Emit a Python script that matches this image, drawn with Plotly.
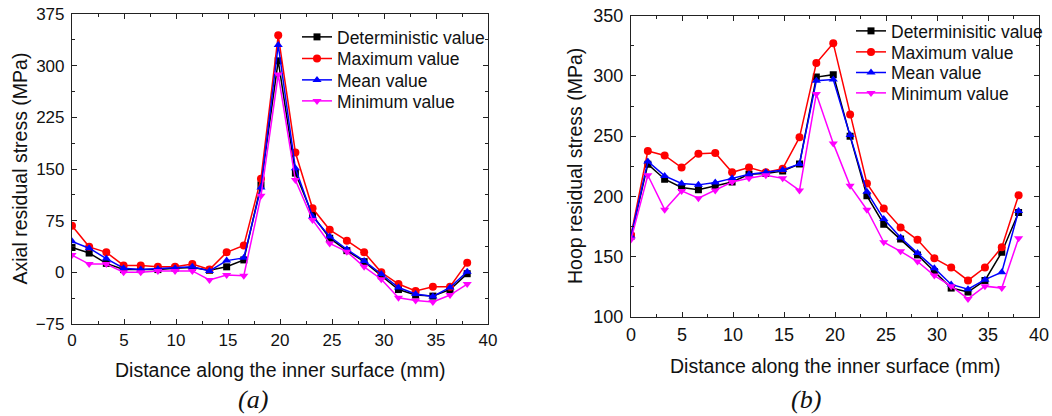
import plotly.graph_objects as go

W, H = 1052, 416

# x positions (mm)
x = [0, 1.65, 3.3, 4.96, 6.61, 8.26, 9.91, 11.57, 13.22, 14.87, 16.52, 18.17,
     19.83, 21.48, 23.13, 24.78, 26.43, 28.09, 29.74, 31.39, 33.04, 34.7, 36.35, 38]

# (a) Axial residual stress (MPa)
axial_det = [36, 28, 13, 4, 4, 4, 6, 7, 3, 8, 18, 127, 307, 144, 83, 49.5, 31.5, 15.5, -5, -25, -33, -34.5, -25, -2]
axial_max = [67.5, 37, 29, 10, 10, 8, 8, 12, 4, 29, 39, 136, 344, 174, 93, 61.7, 46, 29, 0, -17, -27, -21, -21, 14]
axial_mean = [45, 35, 20, 6, 4, 5, 6, 8, 2, 17, 21, 123, 330, 151, 81, 52, 33.5, 16.5, -2.4, -22, -31.5, -35, -22, 1]
axial_min = [25, 12, 12, 0, 0, 2, 2, 2, -11, -4, -5, 111, 287, 134, 76, 42, 30, 8, -10, -37, -41, -43, -33, -17]

# (b) Hoop residual stress (MPa)
hoop_det = [167, 226.7, 214.3, 207.4, 205.5, 208.8, 212, 218.4, 219, 221, 227, 299, 301, 250, 200.5, 177, 164.7, 151.5, 137.7, 124, 120.7, 130.3, 153.7, 186.7]
hoop_max = [168, 237.7, 234, 224, 235.5, 236, 220, 224, 220, 223, 249, 310.6, 327, 268, 210.7, 190, 174.3, 164, 148.7, 141, 130.3, 141, 157.8, 201]
hoop_mean = [167, 229, 217, 210.7, 209.6, 211.5, 215, 218.4, 220, 222, 227, 296, 297, 251, 203.8, 181.2, 166, 153, 140.5, 127, 123, 131, 137.2, 188]
hoop_min = [164.2, 217.6, 189, 204.6, 198.6, 205, 212, 215, 217.6, 215, 205, 285, 244, 208.8, 189, 162, 154.5, 146, 134.4, 125.6, 115, 125.6, 124, 165.3]

names_a = ["Deterministic value", "Maximum value", "Mean value", "Minimum value"]
names_b = ["Determinisitic value", "Maximum value", "Mean value", "Minimum value"]
colors = ["#000000", "#ff0000", "#0000ff", "#ff00ff"]
symbols = ["square", "circle", "triangle-up", "triangle-down"]
msizes = [7, 8, 8, 8]

SANS = "Liberation Sans, Arial, sans-serif"
SERIF = "Liberation Serif, Times New Roman, serif"
INK = "#111111"


def px2x(p):
    return p / W


def px2y(p):
    return 1 - p / H


# legend row positions (pixels): text left edge, row centres
leg_a_x, leg_a_rows = 338, [37, 58.5, 80, 101]
leg_b_x, leg_b_rows = 892, [31, 52, 72.5, 93]
LEG_TEXT_OFFSET = 41  # px from legend box left to text start

fig = go.Figure()
layout_legends = {}
k = 1
for names, series, lx, rows, xa, ya in [
        (names_a, [axial_det, axial_max, axial_mean, axial_min], leg_a_x, leg_a_rows, "x", "y"),
        (names_b, [hoop_det, hoop_max, hoop_mean, hoop_min], leg_b_x, leg_b_rows, "x2", "y2")]:
    for name, ys, c, s, ms, ry in zip(names, series, colors, symbols, msizes, rows):
        lname = "legend" if k == 1 else f"legend{k}"
        fig.add_trace(go.Scatter(x=x, y=ys, name=name, mode="lines+markers",
                                 line=dict(color=c, width=1.5),
                                 marker=dict(symbol=s, size=ms, color=c),
                                 xaxis=xa, yaxis=ya, legend=lname))
        layout_legends[lname] = dict(
            x=px2x(lx - LEG_TEXT_OFFSET), y=px2y(ry), xanchor="left", yanchor="middle",
            bgcolor="rgba(0,0,0,0)", borderwidth=0,
            font=dict(family=SANS, size=17.5, color=INK), itemwidth=30)
        k += 1


def axis_style(fs):
    return dict(showline=True, linecolor="#222222", linewidth=1.2, mirror="ticks",
                ticks="inside", ticklen=5, tickwidth=1, tickcolor="#222222",
                showgrid=False, zeroline=False, automargin=False,
                ticklabeloverflow="allow",
                tickfont=dict(family=SANS, size=fs, color=INK))


fig.update_layout(
    width=W, height=H,
    margin=dict(l=0, r=0, t=0, b=0, autoexpand=False),
    paper_bgcolor="white", plot_bgcolor="white",
    showlegend=True,
    xaxis=dict(domain=[px2x(72), px2x(488)], range=[0, 40], dtick=5,
               minor=dict(ticks="inside", ticklen=3, dtick=2.5, tickcolor="#222222"),
               anchor="y", ticklabelstandoff=0, **axis_style(17)),
    yaxis=dict(domain=[px2y(324), px2y(14)], range=[-75, 375],
               tickvals=[-75, 0, 75, 150, 225, 300, 375],
               minor=dict(ticks="inside", ticklen=3, dtick=37.5, tickcolor="#222222"),
               anchor="x", ticklabelstandoff=3, **axis_style(17)),
    xaxis2=dict(domain=[px2x(631), px2x(1039)], range=[0, 40], dtick=5,
                minor=dict(ticks="inside", ticklen=3, dtick=2.5, tickcolor="#222222"),
                anchor="y2", ticklabelstandoff=1, **axis_style(18)),
    yaxis2=dict(domain=[px2y(317), px2y(15.6)], range=[100, 350], dtick=50,
                minor=dict(ticks="inside", ticklen=3, dtick=25, tickcolor="#222222"),
                anchor="x2", ticklabelstandoff=3, **axis_style(18)),
    **layout_legends,
)

title_font = dict(family=SANS, size=19.5, color=INK)
cap_font = dict(family=SERIF, size=26, color=INK)
texts = [
    ("Distance along the inner surface (mm)", 280, 370, 0, title_font),
    ("Distance along the inner surface (mm)", 835, 366, 0, title_font),
    ("Axial residual stress (MPa)", 19.5, 169, -90, title_font),
    ("Hoop residual stress (MPa)", 575, 166, -90, title_font),
    ("<i>(a)</i>", 253, 399, 0, cap_font),
    ("<i>(b)</i>", 806, 399, 0, cap_font),
]
for t, px, py, ang, f in texts:
    fig.add_annotation(text=t, x=px2x(px), y=px2y(py), xref="paper", yref="paper",
                       showarrow=False, textangle=ang, font=f,
                       xanchor="center", yanchor="middle")

# remove the default page margin so the figure sits at the window's top-left corner
fig.write_html("out.html", config={"displayModeBar": False},
               post_script="document.body.style.margin='0';")
